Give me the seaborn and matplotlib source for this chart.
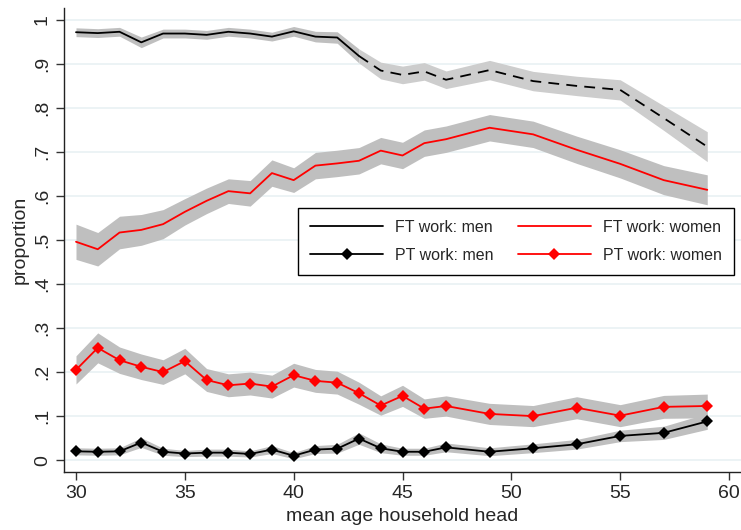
import matplotlib
matplotlib.use("Agg")
import matplotlib.pyplot as plt
import seaborn as sns
import pandas as pd
from matplotlib.lines import Line2D

# Age of household head (x axis)
ages = [30, 31, 32, 33, 34, 35, 36, 37, 38, 39, 40, 41, 42, 43, 44, 45, 46, 47, 49, 51, 53, 55, 57, 59]

# Full-time work shares and CI half-widths
ft_men = [0.972, 0.970, 0.973, 0.949, 0.969, 0.969, 0.966, 0.973, 0.969, 0.962, 0.974, 0.962,
          0.960, 0.918, 0.885, 0.875, 0.883, 0.864, 0.886, 0.861, 0.850, 0.841, 0.777, 0.712]
ft_men_ci = [0.010, 0.010, 0.010, 0.012, 0.010, 0.010, 0.010, 0.010, 0.010, 0.010, 0.011, 0.012,
             0.013, 0.016, 0.019, 0.020, 0.020, 0.020, 0.022, 0.022, 0.022, 0.023, 0.028, 0.034]
ft_women = [0.496, 0.479, 0.517, 0.523, 0.536, 0.564, 0.589, 0.611, 0.606, 0.652, 0.636, 0.669,
            0.674, 0.680, 0.703, 0.692, 0.720, 0.729, 0.755, 0.740, 0.705, 0.673, 0.636, 0.614]
ft_women_ci = [0.040, 0.038, 0.037, 0.035, 0.033, 0.030, 0.029, 0.028, 0.029, 0.030, 0.028, 0.030,
               0.030, 0.030, 0.030, 0.030, 0.030, 0.030, 0.030, 0.030, 0.031, 0.032, 0.033, 0.034]

# Part-time work shares and CI half-widths
pt_men = [0.020, 0.019, 0.020, 0.040, 0.019, 0.015, 0.017, 0.017, 0.014, 0.024, 0.010, 0.024,
          0.026, 0.049, 0.027, 0.019, 0.019, 0.029, 0.019, 0.027, 0.036, 0.055, 0.062, 0.088]
pt_men_ci = [0.008, 0.008, 0.008, 0.011, 0.008, 0.007, 0.008, 0.008, 0.007, 0.009, 0.007, 0.009,
             0.010, 0.013, 0.010, 0.008, 0.008, 0.010, 0.009, 0.010, 0.011, 0.013, 0.015, 0.018]
pt_women = [0.205, 0.255, 0.227, 0.212, 0.200, 0.225, 0.182, 0.170, 0.174, 0.167, 0.193, 0.180,
            0.176, 0.152, 0.124, 0.146, 0.117, 0.123, 0.105, 0.100, 0.119, 0.101, 0.121, 0.123]
pt_women_ci = [0.032, 0.034, 0.030, 0.029, 0.028, 0.029, 0.026, 0.026, 0.026, 0.026, 0.027, 0.026,
               0.026, 0.025, 0.022, 0.024, 0.022, 0.023, 0.024, 0.024, 0.025, 0.025, 0.026, 0.027]

# Age from which the men's full-time line is drawn dashed
break_age = 43

x_ticks = [30, 35, 40, 45, 50, 55, 60]
y_ticks = [0, 0.1, 0.2, 0.3, 0.4, 0.5, 0.6, 0.7, 0.8, 0.9, 1.0]
y_labels = ["0", ".1", ".2", ".3", ".4", ".5", ".6", ".7", ".8", ".9", "1"]

sns.set_style("ticks")
plt.rcParams["font.family"] = ["Liberation Sans", "DejaVu Sans"]

df = pd.DataFrame({
    "age": ages,
    "ft_men": ft_men, "ft_men_ci": ft_men_ci,
    "ft_women": ft_women, "ft_women_ci": ft_women_ci,
    "pt_men": pt_men, "pt_men_ci": pt_men_ci,
    "pt_women": pt_women, "pt_women_ci": pt_women_ci,
})

fig = plt.figure(figsize=(7.41, 5.30), dpi=100)
ax = fig.add_axes([0.0864, 0.1094, 0.9136, 0.8755])

for yv in y_ticks:
    ax.axhline(yv, color="#e9f1f3", lw=1.2, zorder=0)

band_dark = "#bfbfbf"
band_light = "#cdcdcd"

early = df[df["age"] <= break_age]
late = df[df["age"] >= break_age]

# confidence bands
ax.fill_between(early["age"], early["ft_men"] - early["ft_men_ci"], early["ft_men"] + early["ft_men_ci"],
                color=band_dark, lw=0, zorder=1)
ax.fill_between(late["age"], late["ft_men"] - late["ft_men_ci"], late["ft_men"] + late["ft_men_ci"],
                color=band_light, lw=0, zorder=1)
for col in ["ft_women", "pt_men", "pt_women"]:
    ax.fill_between(df["age"], df[col] - df[col + "_ci"], df[col] + df[col + "_ci"],
                    color=band_dark, lw=0, zorder=1)

lw = 1.3
sns.lineplot(data=early, x="age", y="ft_men", ax=ax, color="black", lw=lw, zorder=3)
sns.lineplot(data=late, x="age", y="ft_men", ax=ax, color="black", lw=lw, zorder=3,
             dashes=False, linestyle=(0, (6, 4)))
sns.lineplot(data=df, x="age", y="ft_women", ax=ax, color="red", lw=lw, zorder=3)
sns.lineplot(data=df, x="age", y="pt_men", ax=ax, color="black", lw=lw, zorder=3,
             marker="D", markersize=6.5, markeredgewidth=0)
sns.lineplot(data=df, x="age", y="pt_women", ax=ax, color="red", lw=lw, zorder=3,
             marker="D", markersize=6.5, markeredgewidth=0)

ax.set_xlim(29.45, 60.55)
ax.set_ylim(-0.027, 1.027)
ax.set_xticks(x_ticks)
ax.set_xticklabels([str(t) for t in x_ticks], fontsize=14)
ax.set_yticks(y_ticks)
ax.set_yticklabels(y_labels, fontsize=14, rotation=90, va="center")
ax.tick_params(axis="both", direction="out", length=6, width=1, color="#333333", pad=3.5)
ax.set_xlabel("mean age household head", fontsize=14, labelpad=4)
ax.set_ylabel("proportion", fontsize=14, labelpad=4)

for s in ["top", "right"]:
    ax.spines[s].set_visible(False)
for s in ["left", "bottom"]:
    ax.spines[s].set_linewidth(1.0)
    ax.spines[s].set_color("#222222")

handles = [
    Line2D([], [], color="black", lw=lw),
    Line2D([], [], color="black", lw=lw, marker="D", markersize=6.5, markeredgewidth=0),
    Line2D([], [], color="red", lw=lw),
    Line2D([], [], color="red", lw=lw, marker="D", markersize=6.5, markeredgewidth=0),
]
labels = ["FT work: men", "PT work: men", "FT work: women", "PT work: women"]
# legend box spans roughly x 298-734 px, y 208-272 px
x0 = (298 - 64) / 677
w = (734 - 298) / 677
y0 = (472 - 272) / 464
h = (272 - 208) / 464
leg = ax.legend(handles, labels, ncol=2, loc="upper left",
                bbox_to_anchor=(x0, y0, w, h), mode="expand",
                borderaxespad=0, fontsize=11.5, handlelength=4.6, handletextpad=0.75,
                columnspacing=1.8, labelspacing=0.8, borderpad=0.75,
                frameon=True, fancybox=False, framealpha=1, edgecolor="black")
leg.get_frame().set_linewidth(1.0)
leg.set_zorder(5)

fig.savefig("out.png", dpi=100)
